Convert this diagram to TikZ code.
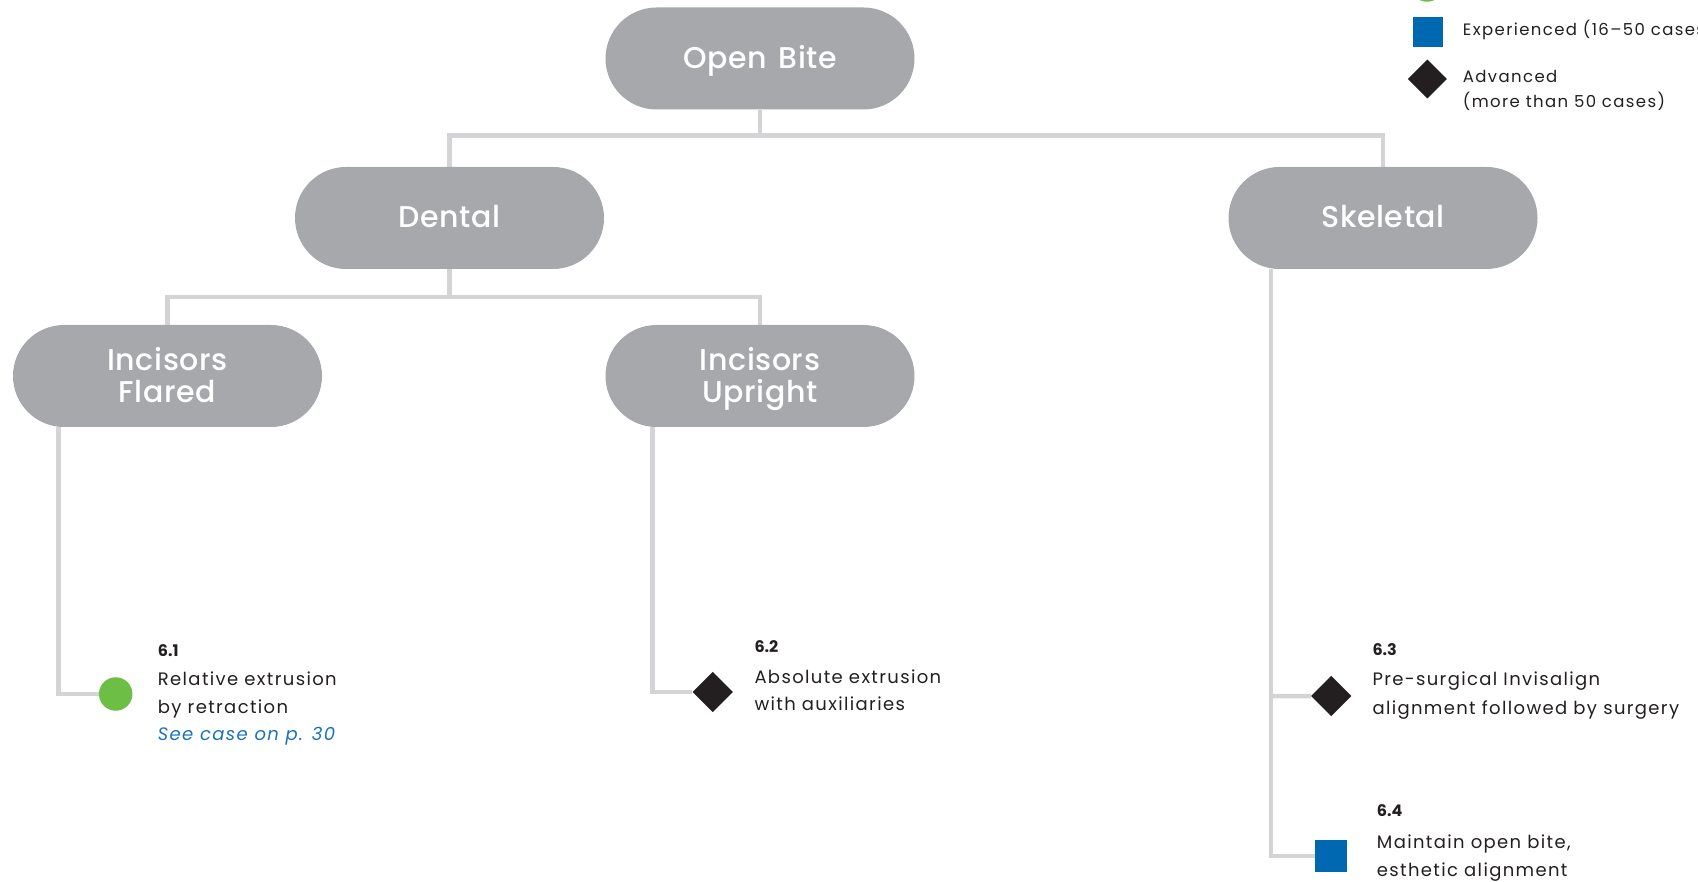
\documentclass[tikz,border=0pt]{standalone}
\usepackage{fontspec}
\setmainfont{Poppins}
\newfontfamily\bodyfont[LetterSpace=7.5]{Poppins}
\newfontfamily\legendfont[LetterSpace=8.5]{Poppins}
\newfontfamily\boxfont[LetterSpace=2,WordSpace=1.4]{Poppins Medium}
\usetikzlibrary{backgrounds}
\definecolor{nodegray}{HTML}{A7A8AB}
\definecolor{linegray}{HTML}{D4D4D6}
\definecolor{txt}{HTML}{231F20}
\definecolor{lvgreen}{HTML}{6CBE45}
\definecolor{lvblue}{HTML}{0067B1}
\definecolor{lvblack}{HTML}{231F20}
\definecolor{linkblue}{HTML}{1A72BA}
% two centred lines whose baseline is that of the first line
\newcommand{\twolines}[2]{\vtop{\halign{\hfil##\hfil\cr #1\cr #2\cr}}}
\tikzset{
  pill/.style={rectangle, rounded corners=51pt, fill=nodegray, minimum width=309pt,
    minimum height=102pt, inner sep=0pt, text=white,
    text height=22pt, text depth=2pt,
    font=\boxfont\fontsize{30}{31.5}\selectfont},
  pilltwo/.style={pill, text depth=32pt},
  conn/.style={draw=linegray, line width=4.5pt},
  body/.style={anchor=base west, inner sep=0pt, text=txt,
    font=\bodyfont\fontsize{18}{28}\selectfont},
  legend/.style={anchor=base west, inner sep=0pt, text=txt,
    font=\legendfont\fontsize{16.5}{24}\selectfont},
  num/.style={anchor=base west, inner sep=0pt, text=txt,
    font=\bfseries\fontsize{16}{18}\selectfont},
  dot/.style={circle, fill=lvgreen, minimum size=33.5pt, inner sep=0pt},
  sq/.style={rectangle, fill=lvblue, minimum size=32pt, inner sep=0pt},
  dia/.style={rectangle, rotate=45, fill=lvblack, minimum size=28.5pt, inner sep=0pt},
}
\begin{document}
\begin{tikzpicture}[x=1pt,y=-1pt]
\useasboundingbox (0,0) rectangle (1698,882);
\clip (0,0) rectangle (1698,882);

% category boxes
\node[pill] (ob)  at (760,58.5) {Open Bite};
\node[pill] (den) at (449.5,218) {Dental};
\node[pill] (sk)  at (1383,218) {Skeletal};
\node[pilltwo] (inf) at (167.5,376) {\twolines{Incisors}{Flared}};
\node[pilltwo] (inu) at (760,376) {\twolines{Incisors}{Upright}};

% treatment markers
\node[dot] (m61) at (115.7,694) {};
\node[dia] (m62) at (712.7,692) {};
\node[dia] (m63) at (1331.3,696) {};
\node[sq]  (m64) at (1331,856) {};

% treatment descriptions
\node[num]  (n61) at (157.7,656.7) {6.1};
\node[body] (t61a) at (157.7,685) {Relative extrusion};
\node[body] (t61b) at (157.7,713) {by retraction};
\node[body, text=linkblue, font=\bodyfont\itshape\fontsize{18}{28}\selectfont]
  (t61c) at (157.7,740.7) {See case on p. 30};

\node[num]  (n62) at (754.3,652.3) {6.2};
\node[body] (t62a) at (754.3,683.3) {Absolute extrusion};
\node[body] (t62b) at (754.3,710.7) {with auxiliaries};

\node[num]  (n63) at (1372.3,655.7) {6.3};
\node[body] (t63a) at (1372.3,685) {Pre-surgical Invisalign};
\node[body] (t63b) at (1372.3,714) {alignment followed by surgery};

\node[num]  (n64) at (1376.7,816.7) {6.4};
\node[body] (t64a) at (1376.7,848.3) {Maintain open bite,};
\node[body] (t64b) at (1376.7,876.7) {esthetic alignment};

% legend
\node[dot] (lg1) at (1427,-15) {};
\node[sq, minimum size=30pt] (lg2) at (1427.7,31.7) {};
\node[dia, minimum size=27.5pt] (lg3) at (1427.3,79) {};
\node[legend] (lt2) at (1462.7,36) {Experienced (16–50 cases)};
\node[legend] (lt3a) at (1462.7,82.7) {Advanced};
\node[legend] (lt3b) at (1462.7,108) {(more than 50 cases)};

% connectors
\begin{scope}[on background layer]
  \coordinate (obj) at ([yshift=-26pt]ob.south);
  \draw[conn] (ob.south) -- (obj);
  \draw[conn] (obj) -| (den.north);
  \draw[conn] (obj) -| (sk.north);
  \coordinate (denj) at ([yshift=-28pt]den.south);
  \draw[conn] (den.south) -- (denj);
  \draw[conn] (denj) -| (inf.north);
  \draw[conn] (denj) -| (inu.north);
  \draw[conn] ([xshift=45.5pt]inf.south west) |- (m61);
  \draw[conn] ([xshift=47pt]inu.south west) |- (m62);
  \coordinate (skl) at ([xshift=42.7pt]sk.south west);
  \draw[conn] (skl) |- (m64);
  \draw[conn] (skl |- m63) -- (m63);
\end{scope}
\end{tikzpicture}
\end{document}
